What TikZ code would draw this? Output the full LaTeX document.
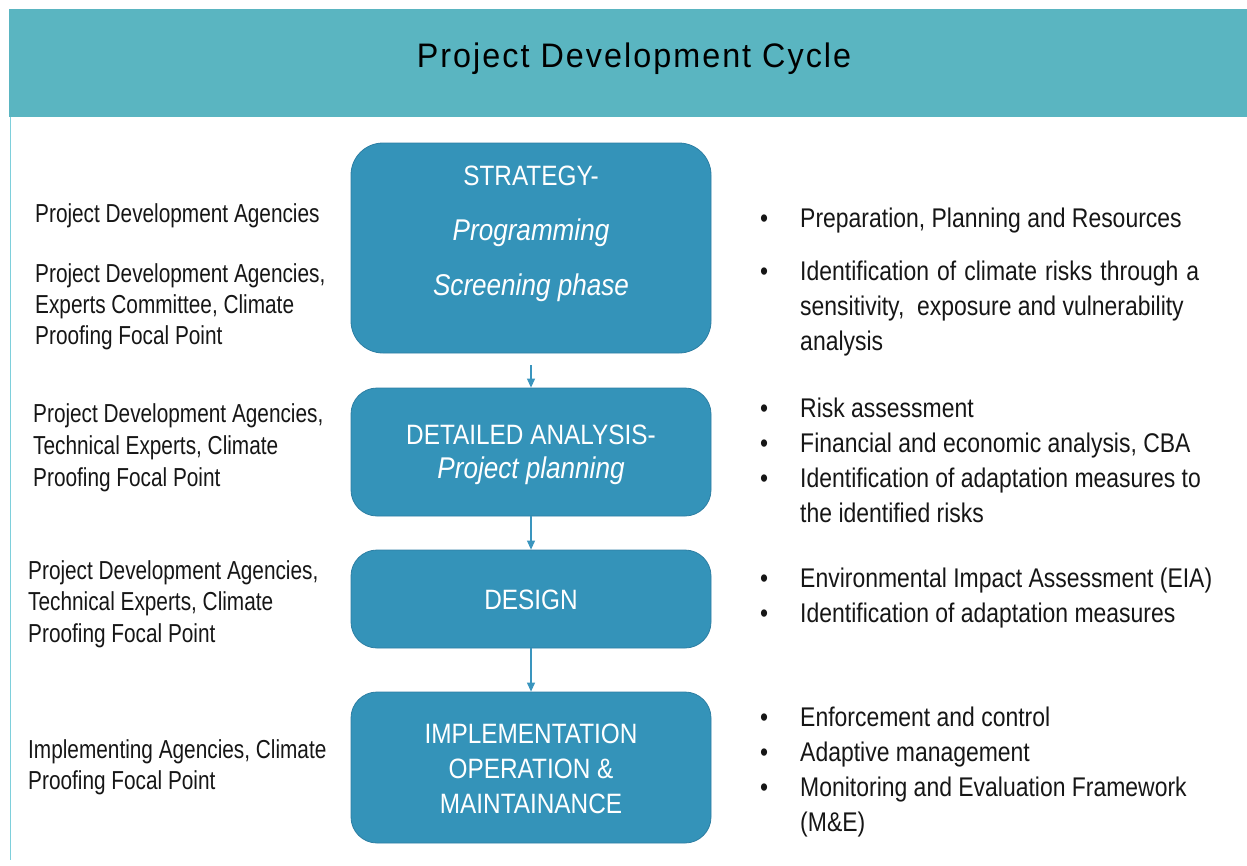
\documentclass[tikz,border=0pt]{standalone}
\usepackage{fontspec}
\usepackage{xcolor}
\usepackage{tikz}
\usetikzlibrary{arrows.meta, positioning}
\setmainfont{Liberation Sans}
\newfontfamily\condensedfont[FakeStretch=0.8]{Liberation Sans}
\newfontfamily\narrowfont[FakeStretch=0.85]{Liberation Sans}
\newfontfamily\boxfont[FakeStretch=0.87]{Liberation Sans}
\newfontfamily\titlefont[FakeStretch=0.95, LetterSpace=6]{Liberation Sans}
\definecolor{PDCHeader}{RGB}{90, 181, 193}
\definecolor{PDCBox}{RGB}{52, 147, 185}
\definecolor{PDCBoxEdge}{RGB}{44, 126, 163}
\definecolor{PDCArrow}{RGB}{58, 149, 190}
\definecolor{PDCRule}{RGB}{126, 207, 219}
\definecolor{PDCText}{RGB}{22, 22, 22}
\newcommand{\phaseit}[1]{{\fontsize{30}{30}\selectfont\itshape #1}}

\begin{document}
\begin{tikzpicture}[
    x=1pt, y=-1pt,
    phase/.style={
      rounded corners=26pt, fill=PDCBox, draw=PDCBoxEdge,
      line width=0.8pt, minimum width=360pt, inner sep=0pt
    },
    phasetext/.style={anchor=base, inner sep=0pt, text=white},
    actor/.style={anchor=base west, inner sep=0pt, text=PDCText},
    task/.style={anchor=base west, inner sep=0pt, text=PDCText},
    flow/.style={PDCArrow, line width=1.1pt, -{Triangle[width=8pt, length=9pt]}}
  ]
    \useasboundingbox (0,0) rectangle (1247,865);

    % header band
    \node[fill=PDCHeader, anchor=north west, minimum width=1238pt,
      minimum height=108pt, inner sep=0pt] (header) at (9,9) {};
    \node[anchor=base, inner sep=0pt, text=black] (title) at (634,67)
      {\titlefont\fontsize{34}{38}\selectfont Project Development Cycle};
    \draw[PDCRule, line width=1.6pt] (10.5,117) -- (10.5,860);

    % phases
    \node[phase, rounded corners=32pt, minimum height=210pt] (strategy) at (531,248) {};
    \node[phase, minimum height=128pt] (analysis) at (531,452) {};
    \node[phase, minimum height=98pt] (design) at (531,599) {};
    \node[phase, minimum height=151pt] (operation) at (531,767.5) {};

    \node[phasetext] (strategy-text) at (531,185) {\boxfont\fontsize{28}{55}\selectfont
      \begin{tabular}[t]{@{}c@{}}STRATEGY-\\ \phaseit{Programming}\\ \phaseit{Screening phase}\end{tabular}};
    \node[phasetext] (analysis-text) at (531,444) {\boxfont\fontsize{28}{34}\selectfont
      \begin{tabular}[t]{@{}c@{}}DETAILED ANALYSIS-\\ \phaseit{Project planning}\end{tabular}};
    \node[phasetext] (design-text) at (531,609) {\boxfont\fontsize{28}{34}\selectfont DESIGN};
    \node[phasetext] (operation-text) at (531,743) {\boxfont\fontsize{28}{35}\selectfont
      \begin{tabular}[t]{@{}c@{}}IMPLEMENTATION\\ OPERATION \&\\ MAINTAINANCE\end{tabular}};

    \draw[flow] ([yshift=-12pt]strategy.south) -- (analysis.north);
    \draw[flow] (analysis.south) -- (design.north);
    \draw[flow] (design.south) -- (operation.north);

    % who is involved
    \node[actor] (actor-a) at (35,222) {\condensedfont\fontsize{26}{31}\selectfont
      Project Development Agencies};
    \node[actor] (actor-b) at (35,282) {\condensedfont\fontsize{26}{31}\selectfont
      \begin{tabular}[t]{@{}l@{}}Project Development Agencies,\\ Experts Committee, Climate\\ Proofing Focal Point\end{tabular}};
    \node[actor] (actor-c) at (33,422) {\condensedfont\fontsize{26}{32}\selectfont
      \begin{tabular}[t]{@{}l@{}}Project Development Agencies,\\ Technical Experts, Climate\\ Proofing Focal Point\end{tabular}};
    \node[actor] (actor-d) at (28,579) {\condensedfont\fontsize{26}{31.5}\selectfont
      \begin{tabular}[t]{@{}l@{}}Project Development Agencies,\\ Technical Experts, Climate\\ Proofing Focal Point\end{tabular}};
    \node[actor] (actor-e) at (28,758) {\condensedfont\fontsize{26}{31}\selectfont
      \begin{tabular}[t]{@{}l@{}}Implementing Agencies, Climate\\ Proofing Focal Point\end{tabular}};

    % what is done
    \node[task] (task-a) at (760,227) {\narrowfont\fontsize{27}{35}\selectfont
      \begin{tabular}[t]{@{}l@{\hspace{32pt}}l@{}}
        \textbullet & Preparation, Planning and Resources\\[18pt]
        \textbullet & \makebox[399pt][s]{Identification of climate risks through a}\\
                    & sensitivity, \ exposure and vulnerability\\
                    & analysis
      \end{tabular}};
    \node[task] (task-b) at (760,417) {\narrowfont\fontsize{27}{35.3}\selectfont
      \begin{tabular}[t]{@{}l@{\hspace{32pt}}l@{}}
        \textbullet & Risk assessment\\
        \textbullet & Financial and economic analysis, CBA\\
        \textbullet & Identification of adaptation measures to\\
                    & the identified risks
      \end{tabular}};
    \node[task] (task-c) at (760,587) {\narrowfont\fontsize{27}{35}\selectfont
      \begin{tabular}[t]{@{}l@{\hspace{32pt}}l@{}}
        \textbullet & Environmental Impact Assessment (EIA)\\
        \textbullet & Identification of adaptation measures
      \end{tabular}};
    \node[task] (task-d) at (760,726) {\narrowfont\fontsize{27}{35.3}\selectfont
      \begin{tabular}[t]{@{}l@{\hspace{32pt}}l@{}}
        \textbullet & Enforcement and control\\
        \textbullet & Adaptive management\\
        \textbullet & Monitoring and Evaluation Framework\\
                    & (M\&E)
      \end{tabular}};
  \end{tikzpicture}
\end{document}
